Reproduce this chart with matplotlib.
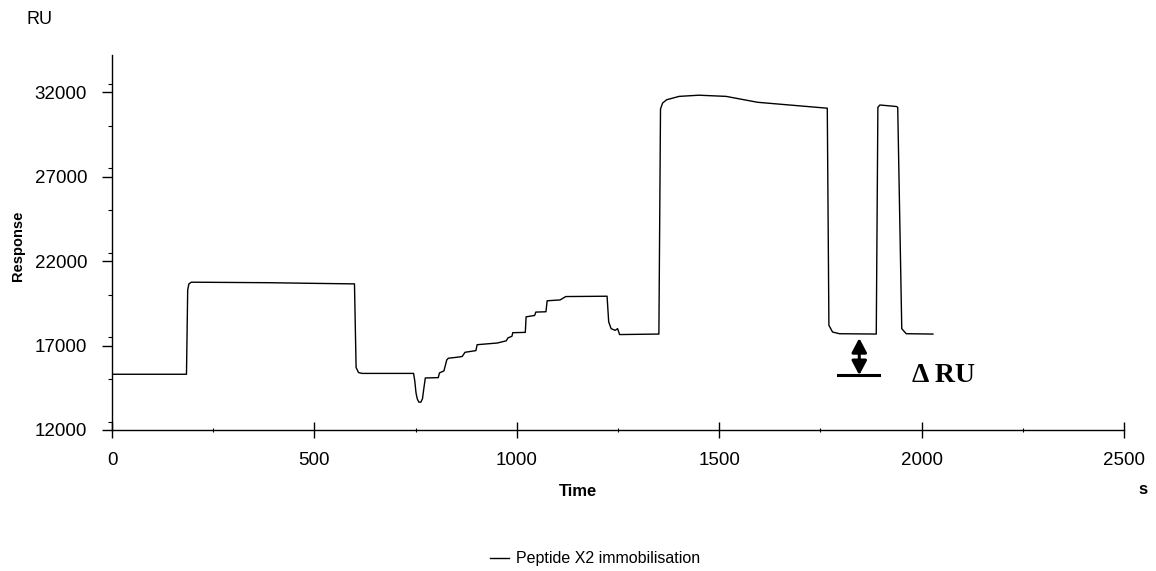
import matplotlib.pyplot as plt
from matplotlib.ticker import MultipleLocator

# Sensorgram: peptide X2 immobilisation (time in s, response in RU)
time_s = [0, 184, 187, 190, 196, 387, 503, 599, 603, 609, 618, 745, 748, 751,
          754, 758, 763, 767, 770, 774, 806, 809, 820, 827, 831, 850, 865, 872,
          899, 902, 952, 974, 978, 988, 990, 1021, 1023, 1044, 1047, 1072, 1075,
          1107, 1121, 1223, 1227, 1233, 1243, 1249, 1254, 1351, 1355, 1360,
          1370, 1401, 1450, 1517, 1595, 1767, 1771, 1780, 1797, 1888, 1892,
          1897, 1938, 1941, 1951, 1962, 2028]
response_ru = [15300, 15300, 20300, 20650, 20750, 20720, 20680, 20650, 15700,
               15400, 15350, 15350, 14900, 14200, 13850, 13650, 13650, 13850,
               14400, 15080, 15100, 15380, 15500, 16150, 16250, 16300, 16350,
               16600, 16700, 17050, 17150, 17280, 17450, 17550, 17760, 17780,
               18700, 18780, 18980, 19000, 19650, 19700, 19900, 19920, 18400,
               18000, 17900, 18000, 17650, 17680, 31000, 31350, 31550, 31750,
               31820, 31750, 31400, 31050, 18200, 17800, 17700, 17680, 31100,
               31240, 31150, 31100, 18000, 17700, 17680]

# Delta RU marker: baseline level vs. plateau after the second injection
delta_x = 1846
delta_base = 15250
delta_top = 17440
delta_bar = (1794, 1895)

fig = plt.figure(figsize=(11.56, 5.71), dpi=100)
ax = fig.add_axes([112 / 1156, 1 - 430 / 571, (1124 - 112) / 1156, (430 - 55) / 571])

ax.plot(time_s, response_ru, color="black", lw=1.0, label="Peptide X2 immobilisation")

ax.set_xlim(0, 2500)
ax.set_ylim(12000, 34200)
ax.xaxis.set_major_locator(MultipleLocator(500))
ax.xaxis.set_minor_locator(MultipleLocator(250))
ax.yaxis.set_major_locator(MultipleLocator(5000))
ax.yaxis.set_minor_locator(MultipleLocator(2500))
ax.set_yticks([12000, 17000, 22000, 27000, 32000])

for side in ("top", "right"):
    ax.spines[side].set_visible(False)
for side in ("left", "bottom"):
    ax.spines[side].set_linewidth(1.0)

font = "Liberation Sans"
ax.tick_params(axis="x", which="major", direction="inout", length=11, width=1.0,
               pad=10, labelsize=13.5, labelfontfamily=font)
ax.tick_params(axis="x", which="minor", direction="inout", length=3.5, width=0.8)
ax.tick_params(axis="y", which="major", direction="out", length=7, width=1.0,
               pad=11, labelsize=13.5, labelfontfamily=font)
ax.tick_params(axis="y", which="minor", direction="out", length=3, width=0.8)

# axis labels placed like the instrument printout
fig.text(40 / 1156, 1 - 20 / 571, "RU", fontsize=13, family=font, ha="center", va="center")
fig.text(18 / 1156, 1 - 246 / 571, "Response", fontsize=10.5, family=font,
         fontweight="bold", rotation=90, ha="center", va="center")
fig.text(578 / 1156, 1 - 492 / 571, "Time", fontsize=12, family=font,
         fontweight="bold", ha="center", va="center")
fig.text(1143 / 1156, 1 - 490 / 571, "s", fontsize=12, family=font,
         fontweight="bold", ha="center", va="center")

# Delta RU arrow and bar
ax.plot(delta_bar, [delta_base, delta_base], color="black", lw=2.2)
ax.annotate("", xy=(delta_x, delta_top), xytext=(delta_x, delta_base),
            arrowprops=dict(arrowstyle="<|-|>,head_length=0.85,head_width=0.45",
                            color="black", lw=2.2, shrinkA=0, shrinkB=0))
ax.text(1976, delta_base, "\u0394 RU", fontsize=20, family="Liberation Serif",
        fontweight="bold", ha="left", va="center")

fig.legend(loc="center left", bbox_to_anchor=(490 / 1156, 1 - 559 / 571),
           frameon=False, handlelength=1.2, handletextpad=0.4, borderpad=0,
           borderaxespad=0, prop={"family": font, "size": 11.5})

fig.savefig("out.png", dpi=100)
